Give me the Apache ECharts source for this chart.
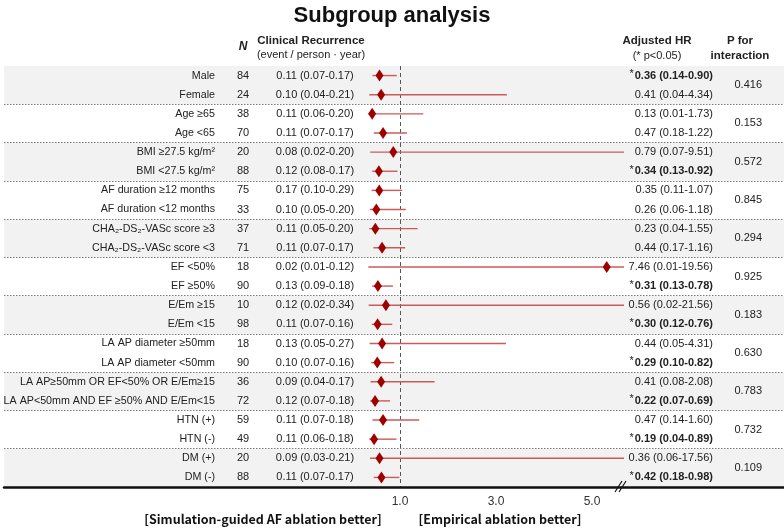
<!DOCTYPE html>
<html><head><meta charset="utf-8">
<script src="https://cdn.jsdelivr.net/npm/echarts@6/dist/echarts.min.js"></script>
<style>html,body{margin:0;padding:0;background:#fff}#c{width:784px;height:528px}</style>
</head><body><div id="c"></div>
<script>
// ---------------- data ----------------
const subgroups = ['Male','Female','Age ≥65','Age <65','BMI ≥27.5 kg/m²','BMI <27.5 kg/m²',
  'AF duration ≥12 months','AF duration <12 months','CHA₂-DS₂-VASc score ≥3','CHA₂-DS₂-VASc score <3',
  'EF <50%','EF ≥50%','E/Em ≥15','E/Em <15','LA AP diameter ≥50mm','LA AP diameter <50mm',
  'LA AP≥50mm OR EF<50% OR E/Em≥15','LA AP<50mm AND EF ≥50% AND E/Em<15','HTN (+)','HTN (-)','DM (+)','DM (-)'];
const nValues = [84,24,38,70,20,88,75,33,37,71,18,90,10,98,18,90,36,72,59,49,20,88];
const rate     = [0.11,0.10,0.11,0.11,0.08,0.12,0.17,0.10,0.11,0.11,0.02,0.13,0.12,0.11,0.13,0.10,0.09,0.12,0.11,0.11,0.09,0.11];
const rateLow  = [0.07,0.04,0.06,0.07,0.02,0.08,0.10,0.05,0.05,0.07,0.01,0.09,0.02,0.07,0.05,0.07,0.04,0.07,0.07,0.06,0.03,0.07];
const rateHigh = [0.17,0.21,0.20,0.17,0.20,0.17,0.29,0.20,0.20,0.17,0.12,0.18,0.34,0.16,0.27,0.16,0.17,0.18,0.18,0.18,0.21,0.17];
const hr     = [0.36,0.41,0.13,0.47,0.79,0.34,0.35,0.26,0.23,0.44,7.46,0.31,0.56,0.30,0.44,0.29,0.41,0.22,0.47,0.19,0.36,0.42];
const hrLow  = [0.14,0.04,0.01,0.18,0.07,0.13,0.11,0.06,0.04,0.17,0.01,0.13,0.02,0.12,0.05,0.10,0.08,0.07,0.14,0.04,0.06,0.18];
const hrHigh = [0.90,4.34,1.73,1.22,9.51,0.92,1.07,1.18,1.55,1.16,19.56,0.78,21.56,0.76,4.31,0.82,2.08,0.69,1.60,0.89,17.56,0.98];
const significant = [1,0,0,0,0,1,0,0,0,0,0,1,0,1,0,1,0,1,0,1,0,1];
const pInteraction = ['0.416','0.153','0.572','0.845','0.294','0.925','0.183','0.630','0.783','0.732','0.109'];
const xTickValues = [1,4,7];
const xTickLabels = ['1.0','3.0','5.0'];

// ---------------- chart ----------------
const FONT = '"Liberation Sans", Arial, sans-serif';
const TXT = '#222';
const CI_COLOR = '#cc5a58';
const f2 = v => v.toFixed(2);
const rateLabels = rate.map((v,i)=> f2(v)+' ('+f2(rateLow[i])+'-'+f2(rateHigh[i])+')');
const hrLabels = hr.map((v,i)=>{
  const s = f2(v)+' ('+f2(hrLow[i])+'-'+f2(hrHigh[i])+')';
  return significant[i] ? '{star|*}{b|'+s+'}' : '{n|'+s+'}';
});
const nRows = subgroups.length;

const chart = echarts.init(document.getElementById('c'));
const gridTop = 66, gridBottom = 41;
const textAxisBase = {
  type:'category', gridIndex:1, inverse:true, data: subgroups, z:10,
  axisLine:{show:false}, axisTick:{show:false}, splitLine:{show:false}, splitArea:{show:false},
  axisPointer:{show:false}
};
const FS = 11;
const lbl = {fontFamily:FONT, fontSize:FS, color:TXT, interval:0};

chart.setOption({
  animation:false,
  textStyle:{fontFamily:FONT},
  title:{text:'Subgroup analysis', left:'center', top:0,
    textStyle:{fontFamily:FONT, fontSize:22, fontWeight:'bold', color:'#111'}},
  grid:[
    {left:4, right:0, top:gridTop, bottom:gridBottom, outerBoundsMode:'none', containLabel:false},
    {left:368, right:160, top:gridTop, bottom:gridBottom, outerBoundsMode:'none', containLabel:false}
  ],
  xAxis:[
    {type:'value', gridIndex:0, min:0, max:1, z:10, position:'bottom',
      axisLine:{show:true, onZero:false, lineStyle:{color:'#111', width:2.5}}, axisTick:{show:false},
      axisLabel:{show:false}, splitLine:{show:false}},
    {type:'value', gridIndex:1, min:0, max:8,
      axisLine:{show:false, onZero:false}, axisTick:{show:false}, splitLine:{show:false},
      axisLabel:{customValues:xTickValues, margin:9, fontFamily:FONT, fontSize:12, color:'#333',
        formatter:v=>{const k=xTickValues.indexOf(v); return k>=0?xTickLabels[k]:'';}}}
  ],
  yAxis:[
    {type:'value', gridIndex:0, min:0, max:nRows, interval:2, inverse:true, z:1,
      axisLine:{show:false}, axisTick:{show:false}, axisLabel:{show:false},
      splitLine:{show:true, showMinLine:false, showMaxLine:false,
        lineStyle:{color:'#7a7a7a', type:[1.5,1.5], width:1}}},
    Object.assign({}, textAxisBase, {position:'left',
      axisLabel:Object.assign({}, lbl, {fontSize:10.7, margin:153, align:'right'})}),
    Object.assign({}, textAxisBase, {position:'left',
      axisLabel:Object.assign({}, lbl, {margin:125, align:'center', formatter:(v,i)=>String(nValues[i])})}),
    Object.assign({}, textAxisBase, {position:'left',
      axisLabel:Object.assign({}, lbl, {margin:53, align:'center', formatter:(v,i)=>rateLabels[i]})}),
    Object.assign({}, textAxisBase, {position:'right',
      axisLabel:Object.assign({}, lbl, {margin:89, align:'right', formatter:(v,i)=>hrLabels[i],
        rich:{
          star:{fontFamily:FONT, fontSize:11, color:TXT, verticalAlign:'top', padding:[0,1,3,0]},
          b:{fontFamily:FONT, fontSize:FS, fontWeight:'bold', color:TXT},
          n:{fontFamily:FONT, fontSize:FS, color:TXT}
        }})})
  ],
  series:[
    {type:'line', xAxisIndex:0, yAxisIndex:0, data:[], z:-2, silent:true,
      markArea:{silent:true, z:-2,
        data: pInteraction.map((p,g)=>[
          {yAxis:2*g, name:p, itemStyle:{color: g%2===0 ? '#f2f2f2' : 'rgba(255,255,255,0)'},
           label:{show:true, position:'insideRight', distance:22, fontFamily:FONT, fontSize:FS, color:TXT}},
          {yAxis:2*g+2}])}},
    {type:'custom', xAxisIndex:1, yAxisIndex:1, silent:true, z:20,
      itemStyle:{color:CI_COLOR}, emphasis:{disabled:true},
      data: subgroups.map((s,i)=>[hrLow[i], hrHigh[i], i]),
      encode:{x:[0,1], y:2},
      renderItem:(params, api)=>{
        const i = api.value(2);
        const p1 = api.coord([api.value(0), i]);
        const p2 = api.coord([api.value(1), i]);
        const cs = params.coordSys;
        const x2 = Math.min(p2[0], cs.x + cs.width);
        return {type:'rect', silent:true,
          shape:{x:p1[0], y:p1[1]-0.7, width:x2-p1[0], height:1.4},
          style:{fill:CI_COLOR, stroke:null}};
      }},
    {type:'scatter', xAxisIndex:1, yAxisIndex:1, silent:true, emphasis:{disabled:true},
      data: hr.map((v,i)=>[v, i]),
      symbol:'diamond', symbolSize:[8,12], itemStyle:{color:'#9e0000', opacity:1}, z:21,
      markLine:{silent:true, symbol:['none','none'], label:{show:false},
        lineStyle:{color:'#555', type:[4,3], width:1},
        data:[{xAxis:1}]}}
  ],
  graphic:[
    {type:'text', style:{x:243, y:47, text:'N', align:'center', verticalAlign:'middle',
      font:'italic bold 12px '+FONT, fill:TXT}},
    {type:'text', style:{x:311, y:41, text:'Clinical Recurrence', align:'center', verticalAlign:'middle',
      font:'bold 11.5px '+FONT, fill:TXT}},
    {type:'text', style:{x:311, y:55, text:'(event / person · year)', align:'center', verticalAlign:'middle',
      font:'11px '+FONT, fill:TXT}},
    {type:'text', style:{x:657, y:41, text:'Adjusted HR', align:'center', verticalAlign:'middle',
      font:'bold 11.5px '+FONT, fill:TXT}},
    {type:'text', style:{x:657, y:56, text:'(* p<0.05)', align:'center', verticalAlign:'middle',
      font:'11px '+FONT, fill:TXT}},
    {type:'text', style:{x:740, y:41, text:'P for', align:'center', verticalAlign:'middle',
      font:'bold 11.5px '+FONT, fill:TXT}},
    {type:'text', style:{x:740, y:56, text:'interaction', align:'center', verticalAlign:'middle',
      font:'bold 11.5px '+FONT, fill:TXT}},
    {type:'text', style:{x:263, y:519, text:'[Simulation-guided AF ablation better]', align:'center', verticalAlign:'middle',
      font:'bold 12.5px "Noto Sans CJK KR", "Noto Sans", sans-serif', fill:'#111'}},
    {type:'text', style:{x:500, y:519, text:'[Empirical ablation better]', align:'center', verticalAlign:'middle',
      font:'bold 12.5px "Noto Sans CJK KR", "Noto Sans", sans-serif', fill:'#111'}},
    {type:'line', z:20, shape:{x1:615, y1:492, x2:622, y2:481}, style:{stroke:'#111', lineWidth:1.2}},
    {type:'line', z:20, shape:{x1:619, y1:492, x2:626, y2:481}, style:{stroke:'#111', lineWidth:1.2}}
  ]
});
</script></body></html>
